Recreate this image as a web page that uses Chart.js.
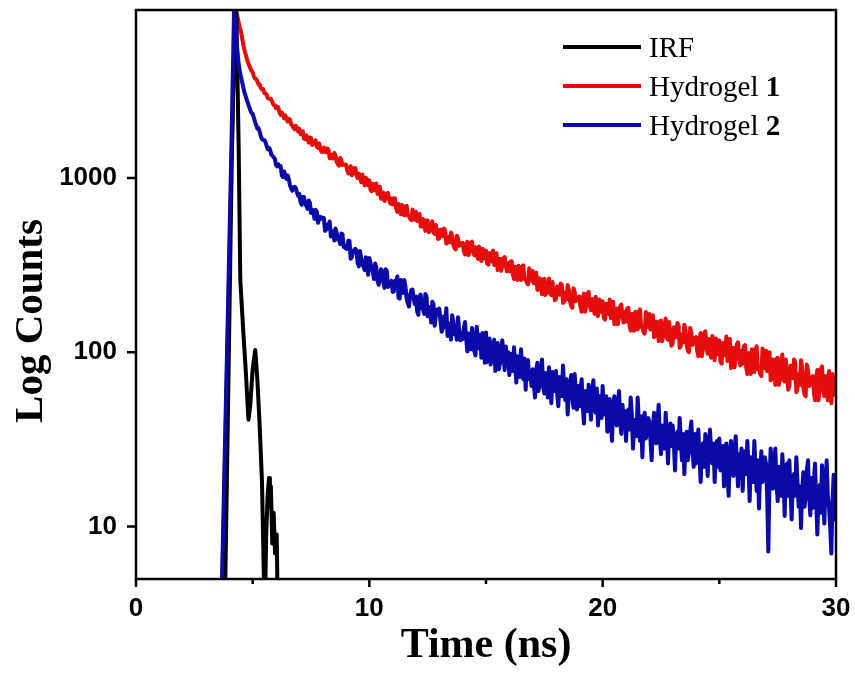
<!DOCTYPE html>
<html><head><meta charset="utf-8">
<script src="https://cdn.jsdelivr.net/npm/chart.js@4"></script>
<style>html,body{margin:0;padding:0;background:#fff}canvas{display:block}</style>
</head><body>
<canvas id="c" width="855" height="674"></canvas>
<script>
// ---- data ----
const seriesNames = ['IRF', 'Hydrogel 1', 'Hydrogel 2'];
const channelStart = 3.6;   // ns, first channel
const channelStep = 0.05;   // ns per channel
const hydrogel1Counts = [
  2, 3, 5, 10, 20, 40, 80, 160,
  320, 650, 1300, 2600, 5000, 7500, 9000, 8400, 7800, 7300, 6900, 6300, 5800, 5400, 5100, 4850, 4600, 4420, 4250, 4120,
  4045, 3832, 3715, 3703, 3580, 3449, 3445, 3279, 3220, 3239, 3065, 3062, 3000, 2870, 2850, 2852, 2815, 2705, 2620, 2618,
  2515, 2570, 2540, 2374, 2300, 2373, 2315, 2195, 2285, 2202, 2110, 2185, 2165, 2026, 2000, 1942, 1905, 1995, 1930, 1849,
  1915, 1783, 1800, 1853, 1680, 1669, 1755, 1709, 1595, 1709, 1700, 1547, 1570, 1606, 1645, 1511, 1485, 1577, 1485, 1412,
  1410, 1496, 1470, 1401, 1475, 1453, 1297, 1299, 1356, 1293, 1390, 1343, 1243, 1198, 1177, 1303, 1264, 1186, 1195, 1194,
  1190, 1105, 1063, 1152, 1171, 1036, 1067, 1139, 1142, 1037, 997, 1061, 1017, 946, 1046, 985, 907, 1003, 978, 910,
  969, 856, 839, 926, 901, 850, 930, 811, 808, 891, 759, 823, 826, 737, 770, 816, 820, 749, 712, 762,
  705, 765, 762, 668, 638, 710, 690, 619, 700, 660, 610, 688, 693, 609, 608, 582, 572, 660, 626, 576,
  640, 567, 583, 621, 527, 526, 582, 560, 497, 571, 570, 488, 506, 535, 564, 487, 478, 538, 486, 447,
  453, 506, 496, 463, 512, 501, 420, 424, 459, 428, 487, 465, 414, 395, 389, 466, 449, 408, 417, 422,
  424, 383, 364, 415, 430, 360, 382, 426, 431, 377, 359, 401, 381, 343, 405, 374, 334, 392, 382, 345,
  383, 323, 318, 371, 359, 332, 384, 317, 318, 370, 296, 338, 343, 293, 315, 347, 352, 311, 291, 325,
  292, 331, 333, 279, 263, 309, 299, 260, 314, 289, 260, 310, 315, 263, 264, 250, 245, 303, 282, 257,
  293, 249, 260, 286, 228, 229, 266, 253, 215, 262, 264, 213, 225, 244, 265, 217, 213, 253, 221, 199,
  203, 239, 235, 214, 248, 243, 192, 195, 220, 201, 243, 229, 196, 184, 180, 233, 223, 196, 203, 207,
  209, 182, 171, 206, 217, 171, 186, 217, 222, 185, 174, 202, 190, 166, 208, 187, 161, 201, 195, 170,
  196, 158, 154, 190, 183, 166, 201, 157, 159, 195, 145, 173, 178, 145, 160, 183, 188, 161, 148, 171,
  150, 178, 180, 143, 133, 166, 160, 133, 171, 154, 135, 171, 176, 140, 141, 131, 128, 170, 156, 139,
  166, 135, 143, 163, 122, 124, 150, 142, 116, 150, 152, 116, 125, 140, 156, 121, 118, 149, 125, 109,
  113, 139, 136, 122, 147, 144, 106, 109, 127, 114, 144, 134, 110, 102, 100, 138, 130, 110, 116, 120,
  122, 102, 95, 120, 129, 95, 105, 128, 132, 106, 98, 119, 110, 93, 124, 109, 90, 120, 115, 97,
  117, 88, 86, 113, 108, 96, 123, 89, 91, 119, 81, 102, 106, 82, 93, 111, 114, 94, 84, 102,
  86, 108, 110, 82, 75, 99, 95, 75, 104, 91, 77, 104, 108, 80, 82, 75, 73, 105, 94, 81,
  102, 78, 85, 100, 69, 70, 91, 85, 65, 92, 93, 65, 72, 84, 97, 69, 68, 91, 73, 61,
  64, 84, 82, 71, 91, 88, 59, 62, 75, 65, 90, 82, 63, 57, 56, 85, 79, 64, 68, 71,
  73, 59, 53, 72, 79, 53, 61, 80, 83, 62, 56, 73, 66, 53, 78, 65, 51, 75, 71, 57,
  60
];
const hydrogel2Counts = [
  2, 3, 6, 12, 25, 50, 100, 200,
  420, 850, 1800, 4000, 9000, 8000, 6300, 5300, 4500, 4100, 3800, 3550, 3300, 3100, 2950, 2800, 2680, 2560, 2450, 2360,
  2337, 2221, 2106, 2018, 1917, 1932, 1845, 1736, 1673, 1652, 1652, 1607, 1523, 1458, 1490, 1450, 1358, 1339, 1313, 1288,
  1190, 1164, 1197, 1160, 1169, 1033, 1011, 1091, 1032, 987, 1033, 983, 909, 874, 845, 883, 890, 877, 825, 789,
  809, 728, 703, 779, 778, 705, 693, 665, 743, 722, 629, 659, 643, 582, 656, 640, 553, 580, 599, 585,
  591, 589, 497, 504, 541, 538, 563, 462, 473, 494, 438, 513, 486, 443, 445, 418, 480, 477, 402, 411,
  393, 391, 437, 435, 344, 351, 383, 376, 392, 382, 324, 311, 381, 348, 321, 310, 296, 351, 335, 278,
  347, 325, 304, 288, 263, 323, 306, 257, 244, 262, 299, 292, 253, 234, 299, 293, 237, 244, 245, 257,
  222, 223, 257, 251, 272, 205, 203, 260, 235, 219, 260, 237, 202, 191, 183, 213, 228, 229, 203, 189,
  209, 171, 164, 209, 214, 179, 177, 166, 216, 210, 161, 182, 177, 148, 195, 189, 142, 161, 176, 171,
  178, 150, 131, 137, 161, 140, 179, 124, 132, 146, 118, 163, 150, 127, 131, 118, 159, 135, 117, 125,
  119, 138, 149, 120, 101, 128, 126, 104, 138, 116, 101, 96, 140, 120, 105, 126, 93, 129, 120, 87,
  130, 88, 106, 120, 85, 96, 112, 118, 78, 92, 113, 80, 86, 104, 117, 96, 79, 108, 86, 100,
  74, 98, 96, 78, 107, 84, 67, 95, 86, 72, 104, 80, 70, 92, 61, 88, 90, 70, 76, 64,
  80, 66, 55, 78, 87, 60, 65, 80, 91, 64, 58, 76, 69, 55, 82, 66, 51, 77, 73, 60,
  78, 58, 49, 72, 69, 56, 84, 62, 53, 70, 44, 58, 66, 74, 55, 48, 75, 60, 47, 64,
  49, 62, 70, 48, 39, 60, 56, 46, 65, 52, 41, 58, 69, 50, 45, 62, 38, 54, 56, 42,
  64, 44, 48, 56, 35, 46, 54, 40, 31, 48, 56, 42, 38, 50, 60, 40, 34, 50, 39, 46,
  31, 42, 47, 36, 55, 44, 28, 38, 41, 33, 55, 40, 31, 43, 25, 38, 45, 32, 36, 42,
  40, 31, 24, 36, 45, 34, 30, 40, 50, 32, 26, 38, 34, 28, 45, 34, 23, 36, 39, 29,
  38, 30, 21, 33, 35, 28, 42, 31, 24, 34, 20, 29, 35, 24, 27, 35, 40, 28, 22, 34,
  23, 30, 36, 25, 18, 27, 30, 22, 34, 28, 19.5, 29, 36, 26, 23, 30, 18, 26, 31, 22,
  32, 21, 26, 29, 17, 24, 30, 20, 15, 26, 31, 22, 19.5, 27, 33, 23, 17, 26, 21, 28,
  16, 24, 27, 20, 31, 22, 14, 25, 23.5, 18, 31, 22, 16, 24, 12.7, 21, 27, 18, 20, 25,
  23, 15, 7.2, 18, 28, 21, 16.5, 23, 28, 18, 14, 22, 19.5, 15, 26, 19, 11.5, 21, 23, 15,
  24, 16, 11, 19, 20, 15, 25, 18, 13, 17, 9.8, 16, 20.5, 13, 14.7, 21, 24, 15, 11.6, 19,
  12.8, 18, 23, 14, 9, 15, 17.3, 12, 22.5, 16, 10.4, 18, 24, 15, 12.8, 10, 7, 14, 19.8, 11,
  14
];
const irfTime = [3.7, 3.8, 3.9, 4.0, 4.1, 4.2, 4.3, 4.4, 4.47, 4.6, 4.7, 4.82, 4.9, 5.0, 5.11, 5.2, 5.3, 5.4, 5.47, 5.52, 5.58, 5.64, 5.7, 5.74, 5.78, 5.84, 5.9, 5.96, 6.03, 6.08];
const irfCounts = [2, 3, 20, 150, 1200, 5000, 9000, 1500, 260, 130, 80, 41, 50, 80, 103, 70, 38, 18, 6, 3, 9, 15, 19, 13, 17, 8, 12, 7, 9, 3];
const xTickValues = [0, 10, 20, 30];
const xMinorTickValues = [5, 15, 25];
const yTickValues = [10, 100, 1000];
const xTitle = 'Time (ns)';
const yTitle = 'Log Counts';

const seriesColors = ['#000000', '#e60d0d', '#0a0aa8'];
const channelTime = hydrogel1Counts.map((_, i) => +(channelStart + i * channelStep).toFixed(2));
const toPoints = (xs, ys) => ys.map((y, i) => ({x: xs[i], y}));

const framePlugin = {
  id: 'frameTicksLegend',
  afterDatasetsDraw(chart) {
    const {ctx, chartArea: a, scales: {x, y}} = chart;
    ctx.save();
    ctx.strokeStyle = '#000';
    ctx.lineWidth = 2.5;
    ctx.strokeRect(a.left, a.top, a.right - a.left, a.bottom - a.top);
    ctx.beginPath();
    xTickValues.forEach(v => { const p = x.getPixelForValue(v); ctx.moveTo(p, a.bottom); ctx.lineTo(p, a.bottom + 8); });
    xMinorTickValues.forEach(v => { const p = x.getPixelForValue(v); ctx.moveTo(p, a.bottom); ctx.lineTo(p, a.bottom + 5); });
    yTickValues.forEach(v => { const p = y.getPixelForValue(v); ctx.moveTo(a.left, p); ctx.lineTo(a.left - 9, p); });
    ctx.stroke();
    // y axis title
    ctx.save();
    ctx.translate(31, 321);
    ctx.rotate(-Math.PI / 2);
    ctx.fillStyle = '#000';
    ctx.font = 'bold 41px "Liberation Serif"';
    ctx.textAlign = 'center';
    ctx.textBaseline = 'middle';
    ctx.fillText(yTitle, 0, 0);
    ctx.restore();
    // legend
    const rows = [47, 86, 125];
    seriesNames.forEach((name, i) => {
      const yy = rows[i];
      ctx.strokeStyle = seriesColors[i];
      ctx.lineWidth = 4;
      ctx.beginPath(); ctx.moveTo(563, yy); ctx.lineTo(641, yy); ctx.stroke();
      const m = name.match(/^(.*?)(\d+)$/);
      const plain = m ? m[1] : name;
      const bold = m ? m[2] : '';
      ctx.fillStyle = '#000';
      ctx.textBaseline = 'alphabetic';
      ctx.textAlign = 'left';
      ctx.font = '29px "Liberation Serif"';
      ctx.fillText(plain, 649, yy + 10);
      if (bold) {
        const w = ctx.measureText(plain).width;
        ctx.font = 'bold 29px "Liberation Serif"';
        ctx.fillText(bold, 649 + w, yy + 10);
      }
    });
    ctx.restore();
  }
};

new Chart(document.getElementById('c'), {
  type: 'line',
  data: {
    datasets: [
      {label: seriesNames[2], data: toPoints(channelTime, hydrogel2Counts), borderColor: seriesColors[2], order: 0},
      {label: seriesNames[0], data: toPoints(irfTime, irfCounts), borderColor: seriesColors[0], order: 1},
      {label: seriesNames[1], data: toPoints(channelTime, hydrogel1Counts), borderColor: seriesColors[1], order: 2}
    ].map(d => Object.assign(d, {borderWidth: 4, pointRadius: 0, tension: 0, fill: false, clip: 0, borderJoinStyle: 'round'}))
  },
  options: {
    responsive: false,
    animation: false,
    layout: {padding: {left: 0, right: 19, top: 10, bottom: 0}},
    plugins: {legend: {display: false}, tooltip: {enabled: false}},
    scales: {
      x: {
        type: 'linear', min: 0, max: 30,
        afterBuildTicks: s => { s.ticks = xTickValues.map(v => ({value: v})); },
        ticks: {font: {family: 'Liberation Sans', weight: 'bold', size: 26}, color: '#000', padding: 6, maxRotation: 0, autoSkip: false},
        grid: {display: false, drawTicks: true, tickLength: 8},
        border: {display: false},
        title: {display: true, text: xTitle, color: '#000', font: {family: 'Liberation Serif', weight: 'bold', size: 42, lineHeight: 1}, padding: {top: 0, bottom: 7}},
        afterFit: s => { s.height = 95; s.paddingLeft = 0; s.paddingRight = 0; }
      },
      y: {
        type: 'logarithmic', min: 5, max: 9200,
        afterBuildTicks: s => { s.ticks = yTickValues.map(v => ({value: v})); },
        ticks: {callback: v => String(v), font: {family: 'Liberation Sans', weight: 'bold', size: 26}, color: '#000', padding: 10, autoSkip: false},
        grid: {display: false, drawTicks: true, tickLength: 9},
        border: {display: false},
        title: {display: false},
        afterFit: s => { s.width = 136; s.paddingTop = 0; s.paddingBottom = 0; }
      }
    }
  },
  plugins: [framePlugin]
});
</script>
</body></html>
